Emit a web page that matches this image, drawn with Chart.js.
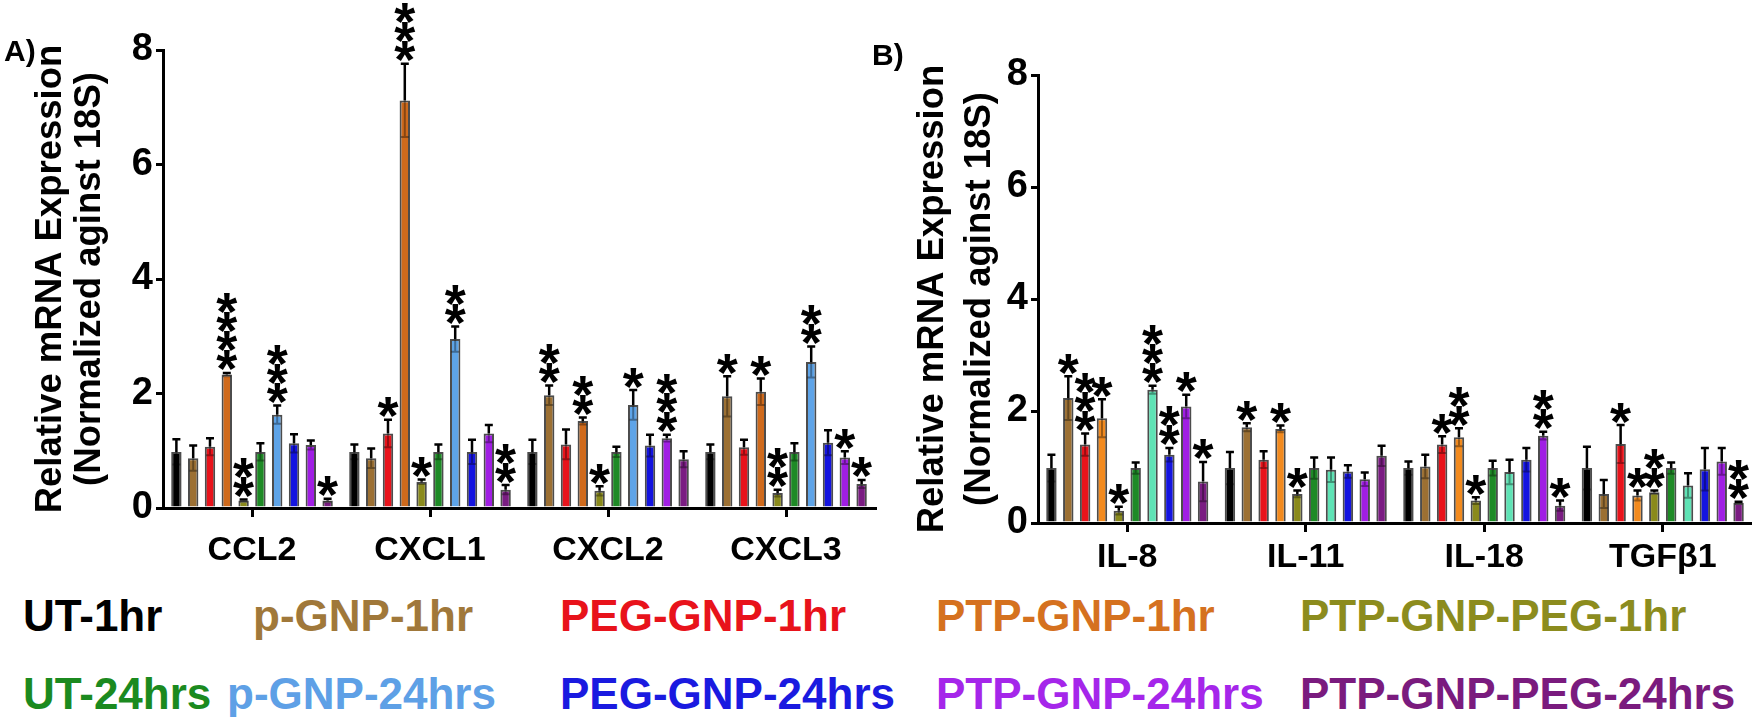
<!DOCTYPE html>
<html>
<head>
<meta charset="utf-8">
<script src="https://cdn.jsdelivr.net/npm/chart.js@4.4.0/dist/chart.umd.min.js"></script>
<style>
  body { margin: 0; width: 1752px; height: 717px; background: #fff; position: relative; overflow: hidden; font-family: "Liberation Sans", Arial, sans-serif; }
  canvas { position: absolute; top: 0; }
  #chartA { left: 0; }
  #chartB { left: 880px; }
  .tag { position: absolute; font-weight: bold; font-size: 30px; line-height: 1; }
  .key { position: absolute; font-weight: bold; font-size: 44px; line-height: 1; white-space: nowrap; }
</style>
</head>
<body>
<canvas id="chartA" width="880" height="580"></canvas>
<canvas id="chartB" width="872" height="580"></canvas>
<div class="tag" style="left:4px; top:36px">A)</div>
<div class="tag" style="left:872px; top:40px">B)</div>
<div id="legend"></div>
<script>
const F = '"Liberation Sans", Arial, sans-serif';

const treatments = ['UT-1hr', 'p-GNP-1hr', 'PEG-GNP-1hr', 'PTP-GNP-1hr', 'PTP-GNP-PEG-1hr',
  'UT-24hrs', 'p-GNP-24hrs', 'PEG-GNP-24hrs', 'PTP-GNP-24hrs', 'PTP-GNP-PEG-24hrs'];
const genesA = ['CCL2', 'CXCL1', 'CXCL2', 'CXCL3'];
const genesB = ['IL-8', 'IL-11', 'IL-18', 'TGFβ1'];
const yMax = 8;
const yStep = 2;

// one row per gene, one column per treatment
const meanA = [
  [0.98, 0.87, 1.07, 2.33, 0.13, 0.98, 1.63, 1.13, 1.10, 0.13],
  [0.98, 0.87, 1.30, 7.12, 0.46, 0.98, 2.95, 0.98, 1.30, 0.32],
  [0.98, 1.97, 1.11, 1.52, 0.30, 0.98, 1.80, 1.09, 1.22, 0.85],
  [0.98, 1.95, 1.06, 2.03, 0.26, 0.98, 2.55, 1.14, 0.88, 0.42],
];
const errA = [
  [0.22, 0.22, 0.15, 0.03, 0.02, 0.15, 0.16, 0.16, 0.08, 0.03],
  [0.13, 0.17, 0.24, 0.64, 0.04, 0.13, 0.22, 0.21, 0.15, 0.08],
  [0.21, 0.17, 0.26, 0.06, 0.08, 0.09, 0.26, 0.19, 0.06, 0.14],
  [0.13, 0.35, 0.13, 0.23, 0.06, 0.15, 0.27, 0.22, 0.11, 0.07],
];
const starsA = [
  [0, 0, 0, 4, 2, 0, 3, 0, 0, 1],
  [0, 0, 1, 3, 1, 0, 2, 0, 0, 2],
  [0, 2, 0, 2, 1, 0, 1, 0, 3, 0],
  [0, 1, 0, 1, 2, 0, 2, 0, 1, 1],
];

const meanB = [
  [0.98, 2.23, 1.40, 1.87, 0.22, 0.98, 2.38, 1.22, 2.08, 0.74],
  [0.98, 1.71, 1.13, 1.68, 0.52, 0.98, 0.95, 0.92, 0.78, 1.20],
  [0.98, 1.01, 1.40, 1.53, 0.40, 0.98, 0.91, 1.13, 1.56, 0.31],
  [0.98, 0.52, 1.41, 0.49, 0.55, 0.98, 0.67, 0.96, 1.10, 0.36],
];
const errB = [
  [0.24, 0.39, 0.20, 0.34, 0.07, 0.10, 0.07, 0.12, 0.21, 0.35],
  [0.29, 0.07, 0.15, 0.06, 0.06, 0.19, 0.22, 0.11, 0.12, 0.18],
  [0.12, 0.21, 0.15, 0.16, 0.06, 0.13, 0.22, 0.21, 0.07, 0.09],
  [0.38, 0.25, 0.34, 0.09, 0.03, 0.10, 0.22, 0.38, 0.24, 0.02],
];
const starsB = [
  [0, 1, 3, 1, 1, 0, 3, 2, 1, 1],
  [0, 1, 0, 1, 1, 0, 0, 0, 0, 0],
  [0, 0, 1, 2, 1, 0, 0, 0, 2, 1],
  [0, 0, 1, 1, 2, 0, 0, 0, 0, 2],
];

const colorsA = ['#000000', '#9c7033', '#e8131b', '#cf6a1c', '#8a8a1c',
  '#1e8a26', '#5ea4e8', '#1414e0', '#a01ee4', '#7a1c82'];
// panel B has a brighter orange and an aquamarine p-GNP-24hrs bar
const colorsB = ['#000000', '#9c7033', '#e8131b', '#f28a1e', '#8a8a1c',
  '#1e8a26', '#5fe3b5', '#1414e0', '#a01ee4', '#7a1c82'];
const legendColors = ['#000000', '#a0783a', '#e8131b', '#d5711f', '#8c8c1e',
  '#1b8a1f', '#5ea0e6', '#1a1ae0', '#a526ea', '#7a1b7e'];

const errorStars = {
  id: 'errorStars',
  afterDatasetsDraw(chart, args, opts) {
    const { ctx } = chart;
    const y = chart.scales.y;
    ctx.save();
    ctx.font = `bold 54px ${F}`;
    const tm = ctx.measureText('*');
    const mid = (tm.actualBoundingBoxAscent - tm.actualBoundingBoxDescent) / 2;
    ctx.textAlign = 'center';
    ctx.textBaseline = 'alphabetic';
    chart.data.datasets.forEach((ds, i) => {
      chart.getDatasetMeta(i).data.forEach((bar, g) => {
        const m = opts.mean[g][i];
        const e = opts.err[g][i];
        const top = y.getPixelForValue(m + e);
        const low = y.getPixelForValue(Math.max(m - e, 0));
        const x = bar.x;
        ctx.lineWidth = 2;
        ctx.strokeStyle = 'rgba(0,0,0,0.35)';
        ctx.beginPath();
        ctx.moveTo(x, bar.y); ctx.lineTo(x, low);
        ctx.moveTo(x - 4, low); ctx.lineTo(x + 4, low);
        ctx.stroke();
        ctx.lineWidth = 2.5;
        ctx.strokeStyle = '#000';
        ctx.beginPath();
        ctx.moveTo(x, bar.y); ctx.lineTo(x, top);
        ctx.moveTo(x - 4, top); ctx.lineTo(x + 4, top);
        ctx.stroke();
        ctx.fillStyle = '#000';
        for (let k = 0; k < opts.stars[g][i]; k++) {
          const cy = top - 12 - k * 19;
          ctx.fillText('*', x, cy + mid);
        }
      });
    });
    ctx.restore();
  }
};

const makePanel = (id, genes, mean, err, stars, colors, box) => {
  const datasets = treatments.map((name, i) => ({
    label: name,
    data: genes.map((g, j) => mean[j][i]),
    backgroundColor: colors[i],
    borderColor: 'rgba(0,0,0,0.7)',
    borderWidth: 2,
    categoryPercentage: 0.944,
    barPercentage: 0.62,
  }));
  return new Chart(document.getElementById(id), {
    type: 'bar',
    data: { labels: genes, datasets },
    plugins: [errorStars],
    options: {
      responsive: false,
      animation: false,
      events: [],
      layout: { padding: { top: box.top, right: box.right, left: 0, bottom: 0 } },
      plugins: {
        legend: { display: false },
        tooltip: { enabled: false },
        errorStars: { mean, err, stars },
      },
      scales: {
        x: {
          grid: { drawOnChartArea: false, offset: false, tickLength: 9, color: '#000', lineWidth: 3 },
          border: { color: '#000', width: 3 },
          ticks: { color: '#000', padding: box.labelPad, font: { family: F, weight: 'bold', size: 34 } },
          afterFit: (s) => { s.height = box.xh; },
        },
        y: {
          min: 0,
          max: yMax,
          ticks: { stepSize: yStep, color: '#000', padding: 3, font: { family: F, weight: 'bold', size: 38 } },
          grid: { drawOnChartArea: false, tickLength: 7, color: '#000', lineWidth: 3 },
          border: { color: '#000', width: 3 },
          title: {
            display: true,
            text: ['Relative mRNA Expression', '(Normalized aginst 18S)'],
            color: '#000',
            font: { family: F, weight: 'bold', size: 36.5, lineHeight: box.titleLh },
            padding: { top: box.titleTop, bottom: 0 },
          },
          afterFit: (s) => { s.width = box.yw; },
        },
      },
    },
  });
};

makePanel('chartA', genesA, meanA, errA, starsA, colorsA,
  { top: 50, right: 5, xh: 72, yw: 163, labelPad: 13, titleLh: 1.05, titleTop: 32 });
makePanel('chartB', genesB, meanB, errB, starsB, colorsB,
  { top: 75, right: 0, xh: 57, yw: 158, labelPad: 5, titleLh: 1.3, titleTop: 29 });

// free-standing coloured legend, two rows
const keyX = [[23, 253, 560, 936, 1300], [23, 227, 560, 936, 1300]];
const keyTop = [594, 672];
const legend = document.getElementById('legend');
treatments.forEach((name, i) => {
  const row = i < 5 ? 0 : 1;
  const el = document.createElement('div');
  el.className = 'key';
  el.textContent = name;
  el.style.color = legendColors[i];
  el.style.left = keyX[row][i % 5] + 'px';
  el.style.top = keyTop[row] + 'px';
  legend.appendChild(el);
});
</script>
</body>
</html>
